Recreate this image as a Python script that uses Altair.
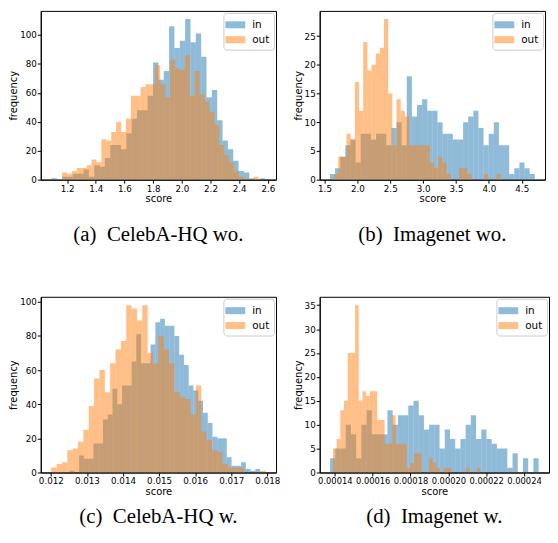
import altair as alt
import pandas as pd

# ---------------- data (40 bins per series) ----------------
# (a) CelebA-HQ wo.
a_in_range = [1.0906, 2.5824]
a_in_counts = [1, 0, 2, 2, 4, 4, 7, 2, 10, 9, 15, 24, 24, 21, 32, 42, 48, 48, 58, 81,
               69, 75, 106, 91, 96, 111, 95, 101, 85, 57, 62, 41, 27, 21, 13, 6, 5, 1, 0, 1]
a_out_range = [1.165, 2.535]
a_out_counts = [5, 4, 6, 8, 8, 10, 14, 12, 28, 27, 33, 40, 33, 42, 58, 58, 64, 66, 66, 79,
                66, 57, 83, 77, 76, 86, 58, 75, 59, 54, 47, 38, 24, 17, 12, 6, 2, 1, 0, 2]

# (b) Imagenet wo.
b_in_range = [1.583, 4.698]
b_in_counts = [1, 2, 4, 6, 7, 3, 8, 8, 7, 8, 8, 6, 9, 10, 6, 18, 11, 13, 14, 12,
               12, 10, 8, 8, 7, 7, 10, 11, 12, 9, 6, 8, 10, 6, 6, 1, 2, 3, 2, 1]
b_out_range = [1.645, 4.18]
b_out_counts = [1, 4, 4, 8, 7, 17, 12, 24, 19, 20, 22, 23, 28, 15, 6, 14, 12, 11, 6, 6,
                6, 6, 6, 3, 2, 4, 3, 1, 0, 0, 2, 2, 1, 0, 0, 0, 1, 0, 0, 1]

# (c) CelebA-HQ w.
c_in_range = [0.01252, 0.0178]
c_in_counts = [1, 0, 10, 8, 8, 17, 17, 31, 34, 49, 40, 51, 51, 65, 81, 64, 64, 75, 88, 90,
               86, 86, 80, 69, 63, 51, 48, 42, 35, 29, 21, 20, 20, 9, 4, 4, 6, 2, 1, 2]
c_out_range = [0.01201, 0.01795]
c_out_counts = [3, 5, 6, 13, 14, 18, 25, 39, 55, 60, 47, 64, 72, 77, 98, 96, 89, 98, 70, 64,
                80, 72, 64, 47, 44, 43, 34, 51, 24, 19, 13, 12, 5, 3, 3, 3, 0, 0, 0, 1]

# (d) Imagenet w.
d_in_range = [0.0001375, 0.0002477]
d_in_counts = [3, 5, 5, 10, 8, 3, 10, 13, 8, 8, 8, 13, 10, 12, 12, 14, 15, 12, 9, 10,
               10, 5, 9, 7, 5, 7, 10, 12, 7, 9, 7, 6, 5, 5, 1, 4, 0, 3, 0, 3]
d_out_range = [0.000139, 0.000217]
d_out_counts = [5, 7, 13, 15, 25, 25, 35, 15, 17, 16, 17, 17, 11, 11, 6, 6, 12, 6, 6, 6,
                1, 2, 4, 4, 0, 0, 3, 2, 1, 0, 1, 1, 0, 0, 0, 0, 1, 0, 0, 1]

series_names = ["in", "out"]
series_colors = ["#1f77b4", "#ff7f0e"]

captions = ["(a)\u00a0 CelebA-HQ wo.", "(b)\u00a0 Imagenet wo.",
            "(c)\u00a0 CelebA-HQ w.", "(d)\u00a0 Imagenet w."]

x_ticks_a = [1.2, 1.4, 1.6, 1.8, 2.0, 2.2, 2.4, 2.6]
x_ticks_b = [1.5, 2.0, 2.5, 3.0, 3.5, 4.0, 4.5]
x_ticks_c = [0.012, 0.013, 0.014, 0.015, 0.016, 0.017, 0.018]
x_ticks_d = [0.00014, 0.00016, 0.00018, 0.00020, 0.00022, 0.00024]
y_ticks_a = [0, 20, 40, 60, 80, 100]
y_ticks_b = [0, 5, 10, 15, 20, 25]
y_ticks_c = [0, 20, 40, 60, 80, 100]
y_ticks_d = [0, 5, 10, 15, 20, 25, 30, 35]


def hist_frame(in_range, in_counts, out_range, out_counts):
    rows = []
    for name, rng, counts in (("in", in_range, in_counts), ("out", out_range, out_counts)):
        lo, hi = rng
        w = (hi - lo) / len(counts)
        for i, c in enumerate(counts):
            rows.append({"series": name, "x0": lo + i * w, "x1": lo + (i + 1) * w, "count": c})
    return pd.DataFrame(rows)


def panel(df, xdom, xticks, xfmt, ydom, yticks, caption, w, h, cap_offset, xlabel_size=8.8):
    legend = alt.Legend(title=None, orient="top-right", offset=2,
                        symbolType="M-1.25,-0.44H1.25V0.44H-1.25Z", symbolSize=256,
                        symbolOpacity=0.5, symbolStrokeWidth=0,
                        labelFontSize=10.5, labelFont="DejaVu Sans", labelColor="black",
                        labelOffset=9, rowPadding=1, padding=4,
                        fillColor="white", strokeColor="#cccccc", cornerRadius=3)
    return alt.Chart(df).mark_rect(opacity=0.5, clip=True).encode(
        x=alt.X("x0:Q", scale=alt.Scale(domain=xdom, nice=False, zero=False),
                axis=alt.Axis(values=xticks, format=xfmt, title="score", labelFontSize=xlabel_size)),
        x2="x1:Q",
        y=alt.Y("count:Q", scale=alt.Scale(domain=ydom, nice=False, zero=True),
                axis=alt.Axis(values=yticks, title="frequency")),
        y2=alt.datum(0),
        color=alt.Color("series:N", scale=alt.Scale(domain=series_names, range=series_colors),
                        legend=legend),
    ).properties(width=w, height=h,
                 title=alt.TitleParams(caption, orient="bottom", anchor="middle", offset=cap_offset))


pa = panel(hist_frame(a_in_range, a_in_counts, a_out_range, a_out_counts),
           [1.016, 2.657], x_ticks_a, ".1f", [0, 116.6], y_ticks_a, captions[0], 237, 170, 20)
pb = panel(hist_frame(b_in_range, b_in_counts, b_out_range, b_out_counts),
           [1.427, 4.854], x_ticks_b, ".1f", [0, 29.4], y_ticks_b, captions[1], 227, 170, 20)
pc = panel(hist_frame(c_in_range, c_in_counts, c_out_range, c_out_counts),
           [0.01172, 0.01824], x_ticks_c, ".3f", [0, 102.9], y_ticks_c, captions[2], 237, 177, 10)
pd_ = panel(hist_frame(d_in_range, d_in_counts, d_out_range, d_out_counts),
            [0.000132, 0.0002532], x_ticks_d, ".5f", [0, 36.75], y_ticks_d, captions[3], 231, 177, 10,
            xlabel_size=8.4)

top = alt.hconcat(pa, pb, spacing=15).resolve_scale(color="independent")
bottom = alt.hconcat(pc, pd_, spacing=11).resolve_scale(color="independent")

chart = alt.vconcat(top, bottom, spacing=51).resolve_scale(color="independent").properties(
    padding={"left": 0, "top": 0, "right": 0, "bottom": 0}
).configure_view(
    stroke="black", strokeWidth=1
).configure_axis(
    labelFont="DejaVu Sans", labelFontSize=8.8, labelColor="black",
    titleFont="DejaVu Sans", titleFontSize=10, titleFontWeight="normal", titleColor="black",
    tickColor="black", tickSize=3.5, domainColor="black", grid=False,
    labelFlush=False, labelOverlap=False, labelPadding=1, titlePadding=1
).configure_title(
    font="Liberation Serif", fontSize=21, fontWeight="normal", color="black"
)

chart.save("out.html", embed_options={"renderer": "svg", "actions": False})
